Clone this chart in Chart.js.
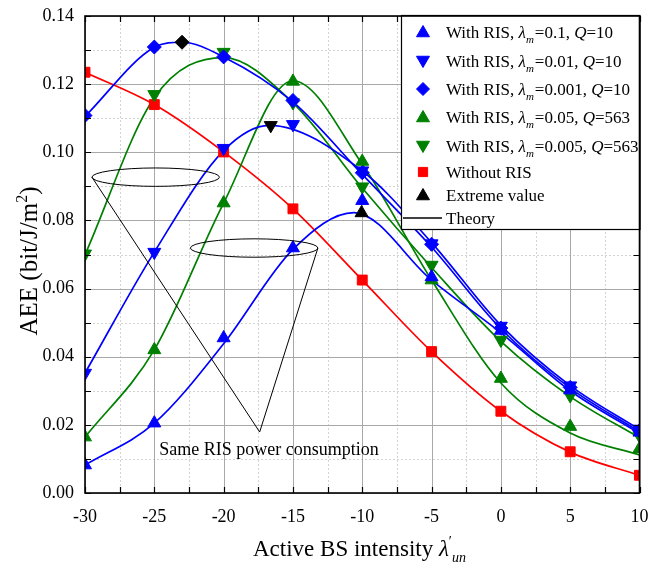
<!DOCTYPE html>
<html><head><meta charset="utf-8">
<script src="https://cdn.jsdelivr.net/npm/chart.js@4"></script>
<style>html,body{margin:0;padding:0;background:#fff;}#wrap{width:648px;height:568px;}</style>
</head><body><div id="wrap"><canvas id="c" width="648" height="568"></canvas></div>
<script>
// ---------------- data ----------------
const xValues = [-30, -25, -20, -15, -10, -5, 0, 5, 10];
const xTickValues = [-30, -25, -20, -15, -10, -5, 0, 5, 10];
const yTickValues = [0, 0.02, 0.04, 0.06, 0.08, 0.10, 0.12, 0.14];

// simulation markers
const simBlueUp    = [0.0082, 0.0205, 0.0455, 0.0719, 0.0858, 0.0634, 0.0477, 0.0302, 0.0178];
const simBlueDown  = [0.0352, 0.0707, 0.1012, 0.1082, 0.0946, 0.0732, 0.0490, 0.0315, 0.0188];
const simBlueDia   = [0.1108, 0.1309, 0.1280, 0.1152, 0.0940, 0.0730, 0.0484, 0.0310, 0.0183];
const simGreenUp   = [0.0164, 0.0420, 0.0851, 0.1208, 0.0973, 0.0625, 0.0336, 0.0195, 0.0130];
const simGreenDown = [0.0702, 0.1170, 0.1294, 0.1146, 0.0899, 0.0669, 0.0449, 0.0286, 0.0168];
const simRed       = [0.1235, 0.1140, 0.1001, 0.0834, 0.0625, 0.0415, 0.0240, 0.0121, 0.0052];

// theory curves
const thBlueUpX    = [-30, -25, -20, -15, -10.6, -5, 0, 5, 10];
const thBlueUpY    = [0.0082, 0.0205, 0.0438, 0.0715, 0.0823, 0.0625, 0.0470, 0.0300, 0.0175];
const thBlueDownX  = [-30, -25, -20, -16.7, -10, -5, 0, 5, 10];
const thBlueDownY  = [0.0352, 0.0707, 0.1005, 0.1079, 0.0945, 0.0735, 0.0492, 0.0315, 0.0186];
const thBlueDiaX   = [-30, -25, -23, -20, -15, -10, -5, 0, 5, 10];
const thBlueDiaY   = [0.1105, 0.1308, 0.1323, 0.1280, 0.1148, 0.0935, 0.0722, 0.0482, 0.0308, 0.0180];
const thGreenUpX   = [-30, -25, -20, -15, -10, -5, 0, 5, 10];
const thGreenUpY   = [0.0164, 0.0420, 0.0851, 0.1210, 0.0965, 0.0625, 0.0323, 0.0176, 0.0112];
const thGreenDownX = [-30, -25, -20, -15, -10, -5, 0, 5, 10];
const thGreenDownY = [0.0699, 0.1160, 0.1278, 0.1145, 0.0895, 0.0662, 0.0445, 0.0283, 0.0162];
const thRedX       = [-30, -25, -20, -15, -10, -5, 0, 5, 10];
const thRedY       = [0.1235, 0.1140, 0.1001, 0.0834, 0.0625, 0.0415, 0.0240, 0.0120, 0.0052];

// extreme values
const extremeX = [-23, -16.6, -10.05];
const extremeY = [0.1323, 0.1079, 0.0822];

// annotation (data units)
const ellipse1 = {cx: -24.9, cy: 0.0927, rx: 4.6, ry: 0.0027};
const ellipse2 = {cx: -17.8, cy: 0.0719, rx: 4.6, ry: 0.0027};
const coneApex = {x: -17.4, y: 0.0179};
const noteText = 'Same RIS power consumption';
const notePos = {x: -24.65, y: 0.0126};

const BLUE = '#0000ff', GREEN = '#008000', RED = '#ff0000', BLACK = '#000000';
const FONT = '"Liberation Serif", "Times New Roman", serif';

const legendItems = [
  {color: BLUE,  style: 'triangle', rot: 0,   parts: [{t:'With RIS, '},{t:'λ',i:1},{t:'m',i:1,sub:1},{t:'=0.1, '},{t:'Q',i:1},{t:'=10'}]},
  {color: BLUE,  style: 'triangle', rot: 180, parts: [{t:'With RIS, '},{t:'λ',i:1},{t:'m',i:1,sub:1},{t:'=0.01, '},{t:'Q',i:1},{t:'=10'}]},
  {color: BLUE,  style: 'rectRot',  rot: 0,   parts: [{t:'With RIS, '},{t:'λ',i:1},{t:'m',i:1,sub:1},{t:'=0.001, '},{t:'Q',i:1},{t:'=10'}]},
  {color: GREEN, style: 'triangle', rot: 0,   parts: [{t:'With RIS, '},{t:'λ',i:1},{t:'m',i:1,sub:1},{t:'=0.05, '},{t:'Q',i:1},{t:'=563'}]},
  {color: GREEN, style: 'triangle', rot: 180, parts: [{t:'With RIS, '},{t:'λ',i:1},{t:'m',i:1,sub:1},{t:'=0.005, '},{t:'Q',i:1},{t:'=563'}]},
  {color: RED,   style: 'rect',     rot: 0,   parts: [{t:'Without RIS'}]},
  {color: BLACK, style: 'triangle', rot: 0,   parts: [{t:'Extreme value'}]},
  {color: BLACK, style: 'line',     rot: 0,   parts: [{t:'Theory'}]}
];
const legendRowsY = [32, 61, 89, 117, 146, 172, 195, 218];

const xTitleParts = [{t:'Active BS intensity '},{t:'λ',i:1},{t:'′',sup:1},{t:'un',i:1,sub:1}];
const yTitleParts = [{t:'AEE (bit/J/m'},{t:'2',sup:1},{t:')'}];

// ---------------- helpers ----------------
const pts = (xs, ys) => xs.map((x, i) => ({x, y: ys[i]}));

function lineDs(xs, ys, color) {
  return {data: pts(xs, ys), borderColor: color, borderWidth: 1.7, pointRadius: 0,
    showLine: true, fill: false, cubicInterpolationMode: 'monotone', order: 2};
}
function markDs(ys, color, style, rot, r) {
  return {data: pts(xValues, ys), showLine: false, pointStyle: style, rotation: rot,
    pointRadius: r, backgroundColor: color, borderColor: color, borderWidth: 1, order: 1};
}

function richWidth(ctx, parts, size) {
  let w = 0;
  for (const p of parts) {
    const fs = (p.sub || p.sup) ? Math.round(size * 0.62) : size;
    ctx.font = (p.i ? 'italic ' : '') + fs + 'px ' + FONT;
    w += ctx.measureText(p.t).width + (p.sub ? 1 : 0);
  }
  return w;
}
function drawRich(ctx, parts, x, y, size) {
  let cx = x;
  for (const p of parts) {
    const fs = (p.sub || p.sup) ? Math.round(size * 0.62) : size;
    ctx.font = (p.i ? 'italic ' : '') + fs + 'px ' + FONT;
    const dy = p.sub ? size * 0.28 : (p.sup ? -size * 0.42 : 0);
    ctx.fillText(p.t, cx, y + dy);
    cx += ctx.measureText(p.t).width + (p.sub ? 1 : 0);
  }
  return cx;
}

const decor = {
  id: 'decor',
  beforeDatasetsDraw(chart) {
    const {ctx, chartArea: {left, right, top, bottom}, scales: {x, y}} = chart;
    ctx.save();
    // minor dotted grid
    ctx.strokeStyle = '#d2d2d2'; ctx.lineWidth = 1; ctx.setLineDash([2, 2]);
    ctx.beginPath();
    for (let k = 1; k < 16; k += 2) { const px = Math.round(x.getPixelForValue(-30 + 2.5 * k)) + 0.5; ctx.moveTo(px, top); ctx.lineTo(px, bottom); }
    for (let k = 1; k < 14; k += 2) { const py = Math.round(y.getPixelForValue(0.01 * k)) + 0.5; ctx.moveTo(left, py); ctx.lineTo(right, py); }
    ctx.stroke();
    // major grid
    ctx.setLineDash([]); ctx.strokeStyle = '#a8a8a8';
    ctx.beginPath();
    for (const v of xTickValues) { const px = Math.round(x.getPixelForValue(v)) + 0.5; ctx.moveTo(px, top); ctx.lineTo(px, bottom); }
    for (const v of yTickValues) { const py = Math.round(y.getPixelForValue(v)) + 0.5; ctx.moveTo(left, py); ctx.lineTo(right, py); }
    ctx.stroke();
    ctx.restore();
  },
  afterDatasetsDraw(chart) {
    const {ctx, chartArea: {left, right, top, bottom}, scales: {x, y}} = chart;
    ctx.save();
    // annotations
    ctx.strokeStyle = '#000'; ctx.lineWidth = 1;
    for (const e of [ellipse1, ellipse2]) {
      const cx = x.getPixelForValue(e.cx), cy = y.getPixelForValue(e.cy);
      const rx = x.getPixelForValue(e.cx + e.rx) - cx, ry = cy - y.getPixelForValue(e.cy + e.ry);
      ctx.beginPath(); ctx.ellipse(cx, cy, rx, ry, 0, 0, Math.PI * 2); ctx.stroke();
    }
    const ax = x.getPixelForValue(coneApex.x), ay = y.getPixelForValue(coneApex.y);
    ctx.beginPath();
    ctx.moveTo(x.getPixelForValue(ellipse1.cx - ellipse1.rx), y.getPixelForValue(ellipse1.cy));
    ctx.lineTo(ax, ay);
    ctx.lineTo(x.getPixelForValue(ellipse2.cx + ellipse2.rx), y.getPixelForValue(ellipse2.cy));
    ctx.stroke();
    ctx.fillStyle = '#000'; ctx.font = '18px ' + FONT; ctx.textBaseline = 'middle'; ctx.textAlign = 'left';
    ctx.fillText(noteText, x.getPixelForValue(notePos.x), y.getPixelForValue(notePos.y));

    // ticks (inward, all four sides)
    ctx.strokeStyle = '#000'; ctx.lineWidth = 1.2;
    ctx.beginPath();
    for (let k = 0; k <= 16; k++) {
      const px = Math.round(x.getPixelForValue(-30 + 2.5 * k)) + 0.5;
      ctx.moveTo(px, bottom); ctx.lineTo(px, bottom - 6);
      ctx.moveTo(px, top); ctx.lineTo(px, top + 6);
    }
    for (let k = 0; k <= 14; k++) {
      const py = Math.round(y.getPixelForValue(0.01 * k)) + 0.5;
      ctx.moveTo(left, py); ctx.lineTo(left + 6, py);
      ctx.moveTo(right, py); ctx.lineTo(right - 6, py);
    }
    ctx.stroke();

    // legend box
    const lx = 401, ly = top - 1, lw = right - 401, lh = 229 - ly;
    ctx.fillStyle = '#fff'; ctx.fillRect(lx, ly, lw, lh);
    ctx.lineWidth = 1.2; ctx.strokeStyle = '#000'; ctx.strokeRect(lx + 0.5, ly + 0.5, lw, lh);
    ctx.textBaseline = 'alphabetic';
    legendItems.forEach((it, i) => {
      const cy = legendRowsY[i];
      if (it.style === 'line') {
        ctx.strokeStyle = '#000'; ctx.lineWidth = 1.5;
        ctx.beginPath(); ctx.moveTo(403, cy); ctx.lineTo(442, cy); ctx.stroke();
      } else {
        ctx.fillStyle = it.color; ctx.strokeStyle = it.color; ctx.lineWidth = 1;
        const r = it.style === 'rect' ? 6.5 : (it.style === 'rectRot' ? 6.5 : 7.5);
        Chart.helpers.drawPoint(ctx, {pointStyle: it.style, rotation: it.rot, radius: r, borderWidth: 1}, 423, cy + (it.style === 'triangle' ? (it.rot ? -1 : 1) : 0));
      }
      ctx.fillStyle = '#000';
      drawRich(ctx, it.parts, 446, cy + 6, 17);
    });

    // frame
    ctx.strokeStyle = '#000'; ctx.lineWidth = 1.6;
    ctx.strokeRect(left, top, right - left, bottom - top);
    ctx.restore();
  },
  afterDraw(chart) {
    const {ctx} = chart;
    ctx.save();
    ctx.fillStyle = '#000'; ctx.textBaseline = 'alphabetic'; ctx.textAlign = 'left';
    drawRich(ctx, xTitleParts, 253, 556, 23);
    // y title, rotated
    const ys = 25;
    const w = richWidth(ctx, yTitleParts, ys);
    ctx.translate(37, 261);
    ctx.rotate(-Math.PI / 2);
    drawRich(ctx, yTitleParts, -w / 2, 0, ys);
    ctx.restore();
  }
};

const datasets = [
  lineDs(thBlueUpX, thBlueUpY, BLUE),
  lineDs(thBlueDownX, thBlueDownY, BLUE),
  lineDs(thBlueDiaX, thBlueDiaY, BLUE),
  lineDs(thGreenUpX, thGreenUpY, GREEN),
  lineDs(thGreenDownX, thGreenDownY, GREEN),
  lineDs(thRedX, thRedY, RED),
  markDs(simBlueUp, BLUE, 'triangle', 0, 7.5),
  markDs(simBlueDown, BLUE, 'triangle', 180, 7.5),
  markDs(simBlueDia, BLUE, 'rectRot', 0, 7),
  markDs(simGreenUp, GREEN, 'triangle', 0, 7.5),
  markDs(simGreenDown, GREEN, 'triangle', 180, 7.5),
  markDs(simRed, RED, 'rect', 0, 7),
  {data: pts(extremeX, extremeY), showLine: false, pointStyle: ['rectRot', 'triangle', 'triangle'],
   rotation: [0, 180, 0], pointRadius: [7, 7.5, 7.5], backgroundColor: BLACK, borderColor: BLACK, order: 0}
];

const fitY = s => { s.width = 85; s.paddingTop = 0; s.paddingBottom = 0; };
const fitX = s => { s.height = 75; s.paddingLeft = 0; s.paddingRight = 0; };

new Chart(document.getElementById('c'), {
  type: 'scatter',
  data: {datasets},
  plugins: [decor],
  options: {
    responsive: false, animation: false, devicePixelRatio: 1, events: [],
    layout: {padding: {top: 16, right: 7, left: 0, bottom: 0}},
    plugins: {legend: {display: false}, tooltip: {enabled: false}},
    scales: {
      x: {type: 'linear', min: -30, max: 10, afterFit: fitX,
        grid: {display: false, drawTicks: false}, border: {display: false},
        afterBuildTicks: s => { s.ticks = xTickValues.map(v => ({value: v})); },
        ticks: {color: '#000', font: {family: FONT, size: 18}, padding: 13, maxRotation: 0,
          callback: v => String(v)}},
      y: {type: 'linear', min: 0, max: 0.14, afterFit: fitY,
        grid: {display: false, drawTicks: false}, border: {display: false},
        afterBuildTicks: s => { s.ticks = yTickValues.map(v => ({value: v})); },
        ticks: {color: '#000', font: {family: FONT, size: 18}, padding: 11,
          callback: v => Number(v).toFixed(2)}}
    }
  }
});
</script></body></html>
